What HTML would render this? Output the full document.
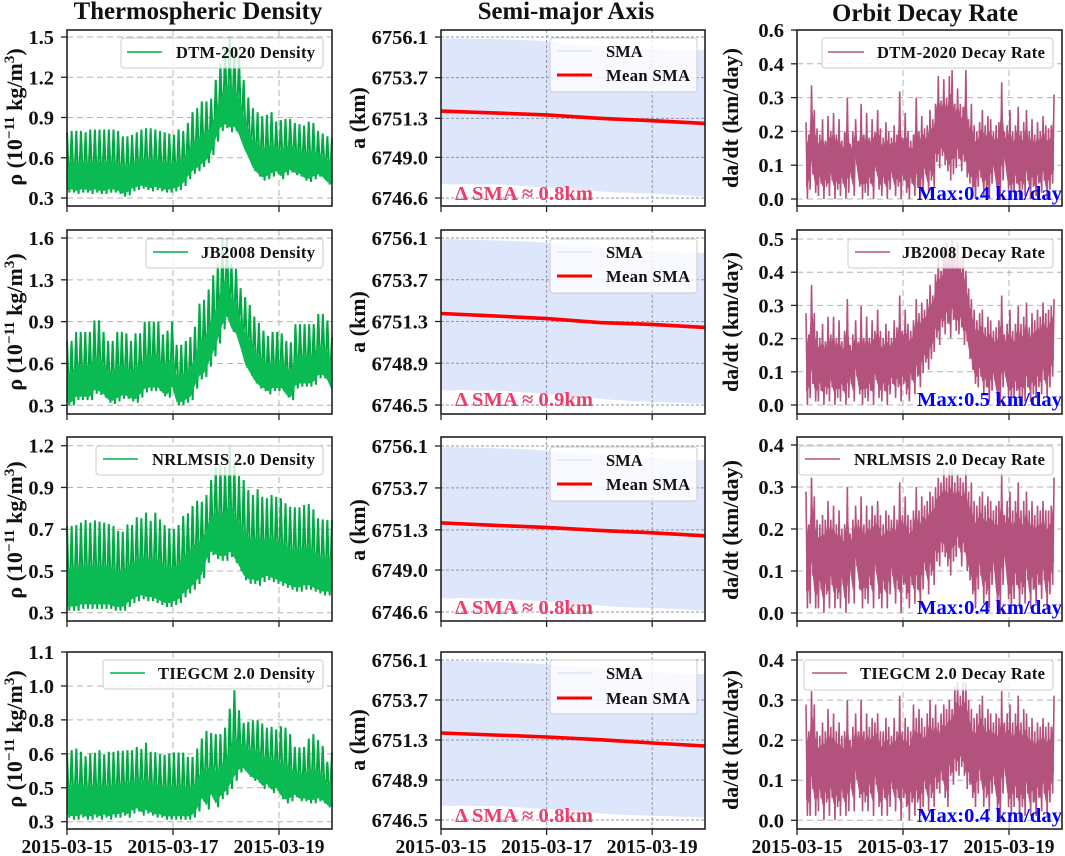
<!DOCTYPE html>
<html>
<head>
<meta charset="utf-8">
<title>Thermospheric density, semi-major axis and orbit decay rate</title>
<style>
html,body{margin:0;padding:0;background:#fff;width:1065px;height:856px;overflow:hidden}
svg{display:block;filter:blur(0.35px)}
text{font-family:"Liberation Serif","DejaVu Serif",serif;font-weight:bold;fill:#111}
.title{font-size:24.8px}
.yl{font-size:22px;text-anchor:middle}
.sup{font-size:15px}
.leg{font-size:16.5px}
.box{fill:#fff;fill-opacity:.8;stroke:#ccc;stroke-width:1}
.delta{font-size:20.5px;fill:#f03a68}
.max{font-size:20.5px;fill:#0000ff}
</style>
</head>
<body>
<svg id="chart" width="1065" height="856" viewBox="0 0 1065 856" xmlns="http://www.w3.org/2000/svg">
<rect width="1065" height="856" fill="#fff"/>
<text class="title" x="198" y="19" text-anchor="middle">Thermospheric Density</text>
<text class="title" x="566" y="19" text-anchor="middle">Semi-major Axis</text>
<text class="title" x="925" y="21" text-anchor="middle">Orbit Decay Rate</text>

<!-- Row 1 -->
<g id="plot-0-0"></g>
<g><rect class="box" x="121" y="38" width="202" height="30" rx="3"/><line x1="127" x2="162" y1="52" y2="52" stroke="#00b04a" stroke-width="1.5"/><text class="leg" x="176" y="58" textLength="139">DTM-2020 Density</text></g>
<text class="yl" transform="translate(22 117) rotate(-90)">ρ (10<tspan class="sup" dy="-8">−11</tspan><tspan dy="8"> kg/m</tspan><tspan class="sup" dy="-8">3</tspan><tspan dy="8">)</tspan></text>
<g id="plot-0-1"></g>
<g><rect class="box" x="550" y="38" width="147" height="54" rx="3"/><line x1="557" x2="592" y1="51" y2="51" stroke="#dbe4fb" stroke-width="1.5"/><text class="leg" x="606" y="57">SMA</text><line x1="557" x2="592" y1="75" y2="75" stroke="#ff0000" stroke-width="3"/><text class="leg" x="606" y="81" textLength="84">Mean SMA</text></g>
<text class="delta" x="455" y="200" textLength="138">Δ SMA ≈ 0.8km</text>
<text class="yl" transform="translate(365 118) rotate(-90)">a (km)</text>
<g id="plot-0-2"></g>
<g><rect class="box" x="822" y="38" width="231" height="30" rx="3"/><line x1="828" x2="864" y1="52" y2="52" stroke="#b9557f" stroke-width="1.5"/><text class="leg" x="877" y="58" textLength="168">DTM-2020 Decay Rate</text></g>
<text class="max" x="917" y="200" textLength="145">Max:0.4 km/day</text>
<text class="yl" transform="translate(738 118) rotate(-90)">da/dt (km/day)</text>

<!-- Row 2 -->
<g id="plot-1-0"></g>
<g><rect class="box" x="146" y="239" width="177" height="29" rx="3"/><line x1="153" x2="188" y1="252" y2="252" stroke="#00b04a" stroke-width="1.5"/><text class="leg" x="201" y="258" textLength="114">JB2008 Density</text></g>
<text class="yl" transform="translate(22 322) rotate(-90)">ρ (10<tspan class="sup" dy="-8">−11</tspan><tspan dy="8"> kg/m</tspan><tspan class="sup" dy="-8">3</tspan><tspan dy="8">)</tspan></text>
<g id="plot-1-1"></g>
<g><rect class="box" x="550" y="239" width="147" height="54" rx="3"/><line x1="557" x2="592" y1="252" y2="252" stroke="#dbe4fb" stroke-width="1.5"/><text class="leg" x="606" y="258">SMA</text><line x1="557" x2="592" y1="276" y2="276" stroke="#ff0000" stroke-width="3"/><text class="leg" x="606" y="282" textLength="84">Mean SMA</text></g>
<text class="delta" x="455" y="406" textLength="138">Δ SMA ≈ 0.9km</text>
<text class="yl" transform="translate(365 322) rotate(-90)">a (km)</text>
<g id="plot-1-2"></g>
<g><rect class="box" x="848" y="239" width="205" height="29" rx="3"/><line x1="855" x2="890" y1="252" y2="252" stroke="#b9557f" stroke-width="1.5"/><text class="leg" x="902" y="258" textLength="143">JB2008 Decay Rate</text></g>
<text class="max" x="917" y="406" textLength="145">Max:0.5 km/day</text>
<text class="yl" transform="translate(738 322) rotate(-90)">da/dt (km/day)</text>

<!-- Row 3 -->
<g id="plot-2-0"></g>
<g><rect class="box" x="96" y="446" width="227" height="29" rx="3"/><line x1="103" x2="138" y1="459" y2="459" stroke="#00b04a" stroke-width="1.5"/><text class="leg" x="152" y="465" textLength="163">NRLMSIS 2.0 Density</text></g>
<text class="yl" transform="translate(22 530) rotate(-90)">ρ (10<tspan class="sup" dy="-8">−11</tspan><tspan dy="8"> kg/m</tspan><tspan class="sup" dy="-8">3</tspan><tspan dy="8">)</tspan></text>
<g id="plot-2-1"></g>
<g><rect class="box" x="550" y="447" width="147" height="54" rx="3"/><line x1="557" x2="592" y1="460" y2="460" stroke="#dbe4fb" stroke-width="1.5"/><text class="leg" x="606" y="466">SMA</text><line x1="557" x2="592" y1="484" y2="484" stroke="#ff0000" stroke-width="3"/><text class="leg" x="606" y="490" textLength="84">Mean SMA</text></g>
<text class="delta" x="455" y="614" textLength="138">Δ SMA ≈ 0.8km</text>
<text class="yl" transform="translate(365 530) rotate(-90)">a (km)</text>
<g id="plot-2-2"></g>
<g><rect class="box" x="799" y="446" width="254" height="29" rx="3"/><line x1="805" x2="840" y1="459" y2="459" stroke="#b9557f" stroke-width="1.5"/><text class="leg" x="854" y="465" textLength="191">NRLMSIS 2.0 Decay Rate</text></g>
<text class="max" x="917" y="614" textLength="145">Max:0.4 km/day</text>
<text class="yl" transform="translate(738 530) rotate(-90)">da/dt (km/day)</text>

<!-- Row 4 -->
<g id="plot-3-0"></g>
<g><rect class="box" x="103" y="660" width="220" height="29" rx="3"/><line x1="110" x2="145" y1="673" y2="673" stroke="#00b04a" stroke-width="1.5"/><text class="leg" x="158" y="679" textLength="157">TIEGCM 2.0 Density</text></g>
<text class="yl" transform="translate(22 739) rotate(-90)">ρ (10<tspan class="sup" dy="-8">−11</tspan><tspan dy="8"> kg/m</tspan><tspan class="sup" dy="-8">3</tspan><tspan dy="8">)</tspan></text>
<g id="plot-3-1"></g>
<g><rect class="box" x="550" y="660" width="147" height="54" rx="3"/><line x1="557" x2="592" y1="673" y2="673" stroke="#dbe4fb" stroke-width="1.5"/><text class="leg" x="606" y="679">SMA</text><line x1="557" x2="592" y1="698" y2="698" stroke="#ff0000" stroke-width="3"/><text class="leg" x="606" y="704" textLength="84">Mean SMA</text></g>
<text class="delta" x="455" y="822" textLength="138">Δ SMA ≈ 0.8km</text>
<text class="yl" transform="translate(365 740) rotate(-90)">a (km)</text>
<g id="plot-3-2"></g>
<g><rect class="box" x="804" y="660" width="249" height="30" rx="3"/><line x1="812" x2="847" y1="673" y2="673" stroke="#b9557f" stroke-width="1.5"/><text class="leg" x="860" y="679" textLength="185">TIEGCM 2.0 Decay Rate</text></g>
<text class="max" x="917" y="822" textLength="145">Max:0.4 km/day</text>
<text class="yl" transform="translate(738 740) rotate(-90)">da/dt (km/day)</text>
</svg>

<script>
const xTickDays = [0, 2, 4];
const xTickLabels = ['2015-03-15', '2015-03-17', '2015-03-19'];
const spanDays = 5;

/* ---------- density tick values and labels ---------- */
const dtmDensityTicks = [0.3, 0.6, 0.9, 1.2, 1.5];
const dtmDensityTickLabels = ['0.3', '0.6', '0.9', '1.2', '1.5'];
const jbDensityTicks = [0.3, 0.625, 0.95, 1.275, 1.6];
const jbDensityTickLabels = ['0.3', '0.6', '0.9', '1.3', '1.6'];
const nrlDensityTicks = [0.3, 0.5175, 0.735, 0.9525, 1.17];
const nrlDensityTickLabels = ['0.3', '0.5', '0.7', '0.9', '1.2'];
const tieDensityTicks = [0.3, 0.466, 0.632, 0.798, 0.964, 1.13];
const tieDensityTickLabels = ['0.3', '0.5', '0.6', '0.8', '1.0', '1.1'];

/* ---------- density orbit maxima and minima ---------- */
const dtmDensityHigh = [.79,.80,.80,.80,.79,.81,.81,.81,.81,.81,.81,.80,.76,.76,.77,.79,.81,.82,.82,.81,.80,.79,.78,.77,.81,.80,.86,.94,.97,1.02,1.02,1.04,1.18,1.30,1.42,1.50,1.42,1.36,1.18,1.05,.97,.94,.91,.92,.94,.87,.88,.89,.89,.86,.85,.84,.87,.86,.80,.78,.76,.75];
const dtmDensityLow = [.34,.34,.33,.34,.34,.33,.34,.33,.33,.34,.34,.33,.31,.32,.35,.36,.37,.36,.35,.36,.35,.34,.34,.35,.36,.39,.44,.48,.50,.53,.56,.62,.72,.80,.82,.79,.80,.74,.65,.58,.50,.46,.43,.44,.46,.48,.44,.47,.49,.47,.46,.43,.42,.44,.46,.44,.40,.39];
const jbDensityHigh = [.80,.80,.87,.87,.87,.87,.96,.96,.87,.80,.80,.87,.87,.86,.80,.86,.86,.95,.95,.95,.95,.85,.88,.95,.77,.77,.80,.83,.91,1.09,1.12,1.20,1.31,1.40,1.60,1.60,1.40,1.36,1.21,1.14,1.08,.99,.94,.88,.84,.87,.87,.86,.80,.79,.93,.93,.93,.93,.93,1.01,1.01,.96,.83];
const jbDensityLow = [.30,.30,.34,.34,.34,.34,.39,.38,.36,.32,.31,.33,.35,.35,.33,.32,.36,.40,.41,.41,.41,.37,.36,.42,.30,.30,.32,.34,.43,.50,.52,.60,.68,.78,.89,.96,.87,.83,.72,.59,.53,.47,.43,.41,.385,.41,.41,.41,.36,.34,.43,.445,.445,.445,.46,.51,.51,.47,.39];
const nrlDensityHigh = [.752,.752,.757,.769,.783,.769,.781,.774,.769,.762,.752,.726,.722,.76,.757,.797,.792,.821,.779,.821,.786,.757,.739,.736,.757,.804,.818,.856,.884,.878,.913,.991,1.061,1.07,1.061,1.165,1.07,1.012,.991,.939,.913,.943,.904,.896,.913,.904,.896,.87,.852,.849,.849,.861,.866,.838,.792,.786,.783,.783];
const nrlDensityLow = [.31,.31,.31,.32,.32,.32,.32,.32,.32,.32,.31,.31,.31,.33,.35,.36,.37,.36,.36,.35,.34,.33,.33,.34,.35,.38,.40,.42,.45,.48,.56,.60,.58,.57,.57,.59,.56,.52,.47,.45,.45,.44,.46,.47,.46,.45,.44,.43,.42,.41,.41,.42,.42,.41,.40,.39,.39,.39];
const tieDensityHigh = [.634,.65,.658,.642,.62,.634,.637,.65,.63,.642,.642,.647,.647,.65,.65,.666,.656,.686,.642,.64,.63,.627,.634,.638,.638,.638,.617,.617,.658,.707,.744,.734,.728,.728,.76,.853,.943,.845,.783,.788,.796,.796,.78,.76,.764,.751,.767,.76,.728,.666,.663,.666,.707,.728,.699,.67,.593,.642];
const tieDensityLow = [.32,.31,.31,.32,.31,.31,.32,.31,.32,.31,.32,.32,.33,.32,.34,.35,.33,.34,.33,.32,.32,.31,.31,.31,.31,.31,.31,.32,.35,.40,.36,.42,.37,.41,.43,.46,.50,.54,.55,.52,.50,.49,.46,.47,.44,.45,.41,.39,.40,.42,.40,.40,.39,.39,.40,.39,.37,.36];

/* ---------- semi-major axis tick values and labels ---------- */
const smaTicksA = [6746.6, 6749.0, 6751.3, 6753.7, 6756.1];
const smaTickLabelsA = ['6746.6', '6749.0', '6751.3', '6753.7', '6756.1'];
const smaTicksB = [6746.5, 6748.9, 6751.3, 6753.7, 6756.1];
const smaTickLabelsB = ['6746.5', '6748.9', '6751.3', '6753.7', '6756.1'];

/* ---------- semi-major axis envelopes and mean ---------- */
const dtmSmaTop = [6756.00,6756.02,6756.02,6756.00,6756.00,6755.98,6755.96,6755.94,6755.92,6755.90,6755.86,6755.77,6755.73,6755.69,6755.65,6755.61,6755.57,6755.53,6755.49,6755.45,6755.41,6755.39,6755.37,6755.35,6755.33,6755.31,6755.31];
const dtmSmaBottom = [6747.43,6747.39,6747.43,6747.41,6747.39,6747.41,6747.39,6747.35,6747.31,6747.27,6747.23,6747.19,6747.15,6747.11,6747.07,6747.03,6746.97,6746.93,6746.91,6746.89,6746.87,6746.85,6746.83,6746.80,6746.76,6746.72,6746.68];
const dtmSmaMean = [6751.73,6751.62,6751.50,6751.30,6751.16,6751.00];
const jbSmaTop = [6756.02,6756.04,6756.02,6756.00,6755.98,6755.97,6755.95,6755.93,6755.91,6755.88,6755.84,6755.76,6755.72,6755.68,6755.63,6755.58,6755.54,6755.50,6755.46,6755.41,6755.37,6755.34,6755.31,6755.29,6755.27,6755.25,6755.24];
const jbSmaBottom = [6747.36,6747.33,6747.36,6747.34,6747.32,6747.34,6747.31,6747.27,6747.23,6747.19,6747.15,6747.10,6747.06,6747.01,6746.96,6746.90,6746.84,6746.79,6746.75,6746.72,6746.70,6746.68,6746.66,6746.64,6746.62,6746.60,6746.58];
const jbSmaMean = [6751.76,6751.62,6751.47,6751.24,6751.13,6750.96];
const nrlSmaTop = [6756.02,6756.04,6756.03,6756.01,6756.00,6755.98,6755.96,6755.94,6755.92,6755.89,6755.86,6755.78,6755.74,6755.70,6755.66,6755.62,6755.58,6755.54,6755.50,6755.46,6755.42,6755.39,6755.36,6755.34,6755.32,6755.30,6755.29];
const nrlSmaBottom = [6747.40,6747.37,6747.40,6747.38,6747.37,6747.38,6747.36,6747.33,6747.29,6747.25,6747.21,6747.17,6747.13,6747.09,6747.05,6747.00,6746.95,6746.91,6746.88,6746.86,6746.84,6746.82,6746.80,6746.77,6746.74,6746.71,6746.68];
const nrlSmaMean = [6751.70,6751.56,6751.44,6751.27,6751.13,6750.96];
const tieSmaTop = [6756.04,6756.05,6756.04,6756.02,6756.00,6755.99,6755.97,6755.95,6755.93,6755.90,6755.86,6755.79,6755.74,6755.70,6755.66,6755.62,6755.57,6755.53,6755.49,6755.45,6755.40,6755.37,6755.34,6755.31,6755.28,6755.26,6755.24];
const tieSmaBottom = [6747.36,6747.33,6747.37,6747.35,6747.33,6747.34,6747.32,6747.28,6747.24,6747.20,6747.16,6747.12,6747.08,6747.03,6746.98,6746.93,6746.88,6746.84,6746.81,6746.79,6746.77,6746.75,6746.73,6746.71,6746.69,6746.67,6746.66];
const tieSmaMean = [6751.72,6751.60,6751.48,6751.32,6751.12,6750.94];

/* ---------- decay rate tick values and labels ---------- */
const dtmDecayTicks = [0, 0.11, 0.22, 0.33, 0.44, 0.55];
const dtmDecayTickLabels = ['0.0', '0.1', '0.2', '0.3', '0.4', '0.6'];
const jbDecayTicks = [0, 0.094, 0.188, 0.282, 0.376, 0.47];
const jbDecayTickLabels = ['0.0', '0.1', '0.2', '0.3', '0.4', '0.5'];
const lowDecayTicks = [0, 0.09, 0.18, 0.27, 0.36];
const lowDecayTickLabels = ['0.0', '0.1', '0.2', '0.3', '0.4'];

/* ---------- decay rate spike tops and minima ---------- */
const decayFirstDay = 0.17;
const decayLastDay = 4.85;
const dtmDecayHigh = [.25,.21,.37,.29,.23,.21,.26,.19,.27,.22,.28,.21,.26,.19,.22,.33,.18,.22,.26,.19,.31,.21,.28,.20,.26,.22,.29,.23,.20,.25,.22,.20,.24,.21,.35,.20,.28,.22,.19,.21,.33,.22,.27,.23,.24,.29,.26,.31,.40,.32,.39,.33,.40,.42,.31,.36,.31,.30,.42,.26,.31,.24,.22,.25,.29,.24,.27,.26,.22,.24,.25,.38,.22,.24,.29,.22,.24,.30,.22,.25,.29,.22,.26,.21,.25,.22,.27,.24,.23,.24,.34];
const dtmDecayLow = [.00,.03,.08,.02,.01,.05,.00,.04,.01,.06,.00,.03,.01,.05,.00,.02,.07,.01,.11,.04,.00,.02,.01,.05,.00,.09,.03,.01,.05,.00,.03,.07,.01,.04,.00,.06,.02,.00,.05,.01,.04,.00,.03,.08,.02,.06,.04,.12,.10,.14,.11,.09,.06,.08,.10,.13,.09,.12,.07,.05,.03,.00,.04,.07,.01,.03,.00,.05,.09,.01,.00,.06,.12,.03,.00,.02,.05,.00,.03,.01,.06,.00,.04,.01,.05,.02,.06,.00,.03,.05,.05];
const jbDecayHigh = [.26,.20,.34,.26,.21,.19,.23,.18,.25,.20,.25,.19,.24,.18,.21,.30,.17,.20,.24,.18,.28,.19,.25,.19,.24,.21,.27,.21,.19,.23,.21,.19,.24,.22,.31,.21,.27,.23,.21,.24,.30,.26,.29,.27,.30,.34,.31,.37,.42,.38,.44,.46,.43,.47,.42,.46,.41,.43,.38,.33,.30,.27,.24,.26,.27,.22,.25,.24,.21,.22,.24,.31,.20,.23,.27,.21,.23,.28,.23,.25,.29,.22,.26,.24,.27,.25,.29,.26,.27,.28,.30];
const jbDecayLow = [.00,.02,.06,.01,.01,.04,.00,.03,.01,.05,.00,.02,.01,.04,.00,.02,.06,.01,.08,.03,.00,.02,.01,.04,.00,.07,.02,.01,.04,.00,.03,.06,.02,.05,.01,.06,.03,.01,.07,.03,.08,.05,.09,.12,.10,.13,.15,.19,.17,.22,.20,.23,.19,.24,.21,.20,.22,.17,.18,.13,.10,.06,.05,.08,.03,.05,.01,.04,.07,.01,.00,.05,.08,.02,.00,.02,.04,.00,.02,.01,.05,.01,.03,.02,.05,.03,.07,.02,.05,.08,.10];
const nrlDecayHigh = [.26,.19,.29,.25,.20,.19,.21,.20,.24,.20,.23,.19,.22,.18,.19,.27,.17,.20,.23,.20,.25,.19,.23,.20,.23,.21,.24,.21,.19,.22,.21,.20,.23,.20,.28,.21,.25,.21,.20,.22,.27,.22,.25,.23,.24,.26,.25,.27,.29,.28,.31,.29,.31,.31,.28,.30,.29,.28,.31,.26,.28,.24,.23,.25,.26,.23,.25,.24,.22,.23,.24,.30,.21,.24,.26,.22,.24,.28,.22,.24,.26,.22,.24,.21,.23,.22,.24,.22,.22,.23,.29];
const nrlDecayLow = [.01,.02,.08,.01,.01,.05,.00,.04,.01,.06,.01,.03,.01,.06,.00,.02,.08,.02,.10,.05,.01,.03,.02,.06,.01,.09,.03,.01,.05,.01,.04,.08,.02,.05,.00,.06,.03,.01,.06,.02,.05,.01,.05,.09,.04,.08,.06,.11,.10,.13,.12,.10,.08,.11,.12,.14,.10,.13,.09,.07,.04,.01,.05,.08,.02,.04,.01,.06,.09,.01,.00,.06,.11,.03,.00,.03,.06,.01,.04,.02,.07,.01,.05,.02,.06,.03,.07,.01,.04,.06,.08];
const tieDecayHigh = [.26,.20,.29,.26,.20,.19,.22,.20,.25,.21,.24,.20,.22,.19,.20,.27,.18,.21,.24,.20,.27,.20,.24,.21,.23,.22,.24,.20,.20,.23,.21,.19,.23,.20,.28,.20,.23,.21,.20,.26,.23,.25,.23,.21,.24,.27,.23,.26,.22,.24,.26,.25,.27,.25,.30,.31,.28,.31,.31,.27,.25,.23,.24,.26,.28,.23,.25,.24,.22,.24,.23,.29,.22,.24,.26,.22,.24,.28,.22,.25,.24,.21,.23,.20,.22,.21,.23,.21,.22,.21,.28];
const tieDecayLow = [.01,.01,.07,.01,.02,.05,.00,.04,.01,.05,.00,.03,.01,.05,.01,.02,.07,.02,.09,.05,.02,.04,.02,.06,.01,.08,.03,.01,.05,.01,.03,.07,.02,.05,.00,.05,.03,.00,.04,.01,.04,.01,.03,.07,.02,.05,.03,.07,.06,.09,.05,.03,.10,.08,.11,.10,.12,.10,.07,.08,.05,.03,.06,.09,.03,.05,.02,.06,.08,.02,.00,.06,.10,.03,.01,.03,.05,.00,.03,.01,.06,.01,.04,.01,.05,.02,.06,.01,.04,.06,.08];

/* ---------- layout (pixels) ---------- */
const colLeft = [67, 441, 797];
const colRight = [332, 705, 1062];
const rowTop = [30, 230, 437, 652];
const rowBottom = [206, 414, 621, 829];

const panels = [
  {r:0,c:0,kind:'density',high:dtmDensityHigh,low:dtmDensityLow,ticks:dtmDensityTicks,labels:dtmDensityTickLabels,pxLow:198,pxHigh:37},
  {r:1,c:0,kind:'density',high:jbDensityHigh,low:jbDensityLow,ticks:jbDensityTicks,labels:jbDensityTickLabels,pxLow:405.3,pxHigh:238},
  {r:2,c:0,kind:'density',high:nrlDensityHigh,low:nrlDensityLow,ticks:nrlDensityTicks,labels:nrlDensityTickLabels,pxLow:612.7,pxHigh:445.7},
  {r:3,c:0,kind:'density',high:tieDensityHigh,low:tieDensityLow,ticks:tieDensityTicks,labels:tieDensityTickLabels,pxLow:821.7,pxHigh:652},
  {r:0,c:1,kind:'sma',top:dtmSmaTop,bottom:dtmSmaBottom,mean:dtmSmaMean,ticks:smaTicksA,labels:smaTickLabelsA,pxLow:198,pxHigh:37},
  {r:1,c:1,kind:'sma',top:jbSmaTop,bottom:jbSmaBottom,mean:jbSmaMean,ticks:smaTicksB,labels:smaTickLabelsB,pxLow:405,pxHigh:238},
  {r:2,c:1,kind:'sma',top:nrlSmaTop,bottom:nrlSmaBottom,mean:nrlSmaMean,ticks:smaTicksA,labels:smaTickLabelsA,pxLow:612,pxHigh:446},
  {r:3,c:1,kind:'sma',top:tieSmaTop,bottom:tieSmaBottom,mean:tieSmaMean,ticks:smaTicksB,labels:smaTickLabelsB,pxLow:820,pxHigh:660},
  {r:0,c:2,kind:'decay',high:dtmDecayHigh,low:dtmDecayLow,ticks:dtmDecayTicks,labels:dtmDecayTickLabels,pxLow:199,pxHigh:30},
  {r:1,c:2,kind:'decay',high:jbDecayHigh,low:jbDecayLow,ticks:jbDecayTicks,labels:jbDecayTickLabels,pxLow:405,pxHigh:239},
  {r:2,c:2,kind:'decay',high:nrlDecayHigh,low:nrlDecayLow,ticks:lowDecayTicks,labels:lowDecayTickLabels,pxLow:613,pxHigh:445},
  {r:3,c:2,kind:'decay',high:tieDecayHigh,low:tieDecayLow,ticks:lowDecayTicks,labels:lowDecayTickLabels,pxLow:820.3,pxHigh:660}
];

const SVG_NS = 'http://www.w3.org/2000/svg';
function svgEl(tag, attrs) {
  const el = document.createElementNS(SVG_NS, tag);
  for (const k in attrs) el.setAttribute(k, attrs[k]);
  return el;
}
function xScale(p, day) {
  return colLeft[p.c] + (colRight[p.c] - colLeft[p.c]) * day / spanDays;
}
function yScale(p, v) {
  const lo = p.ticks[0], hi = p.ticks[p.ticks.length - 1];
  return p.pxLow + (v - lo) / (hi - lo) * (p.pxHigh - p.pxLow);
}
function fmt(n) { return n.toFixed(2); }

function drawGrid(p, g) {
  const color = p.kind === 'sma' ? '#8f97ad' : '#b4b4b4';
  const dash = p.kind === 'sma' ? '3 2' : '6 4';
  xTickDays.forEach(function (d) {
    const x = xScale(p, d);
    if (d === 0) return;
    const line = svgEl('line', {x1:x, x2:x, y1:rowTop[p.r], y2:rowBottom[p.r], stroke:color, 'stroke-width':1, 'stroke-dasharray':dash});
    
    
    g.appendChild(line);
  });
  p.ticks.forEach(function (t) {
    const y = yScale(p, t);
    const line = svgEl('line', {x1:colLeft[p.c], x2:colRight[p.c], y1:y, y2:y, stroke:color, 'stroke-width':1, 'stroke-dasharray':dash});
    
    
    g.appendChild(line);
  });
}

function drawAxes(p, g) {
  const left = colLeft[p.c], right = colRight[p.c], top = rowTop[p.r], bottom = rowBottom[p.r];
  const frame = svgEl('rect', {x:left, y:top, width:right-left, height:bottom-top, fill:'none', stroke:'#222', 'stroke-width':1.6});
  
  
  g.appendChild(frame);
  p.ticks.forEach(function (t, i) {
    const y = yScale(p, t);
    const mark = svgEl('line', {x1:left-6, x2:left, y1:y, y2:y, stroke:'#222', 'stroke-width':1.3});
    
    
    g.appendChild(mark);
    const label = svgEl('text', {x:left-13, y:y+7, 'text-anchor':'end', 'font-size':20.5});
    
    
    label.textContent = p.labels[i];
    g.appendChild(label);
  });
  xTickDays.forEach(function (d, i) {
    const x = xScale(p, d);
    const mark = svgEl('line', {x1:x, x2:x, y1:bottom, y2:bottom+6, stroke:'#222', 'stroke-width':1.3});
    
    
    g.appendChild(mark);
    if (p.r === rowTop.length - 1) {
      const label = svgEl('text', {x:x, y:853, 'text-anchor':'middle', 'font-size':19.5});
      
      
      label.textContent = xTickLabels[i];
      g.appendChild(label);
    }
  });
}

function zigzagPoints(p, high, low, firstDay, lastDay) {
  const pts = [];
  const step = (lastDay - firstDay) / (high.length - 1);
  high.forEach(function (h, i) {
    const d = firstDay + i * step;
    pts.push(fmt(xScale(p, d)) + ',' + fmt(yScale(p, h)));
    if (i < high.length - 1) {
      pts.push(fmt(xScale(p, d + step / 2)) + ',' + fmt(yScale(p, low[i])));
    }
  });
  return pts.join(' ');
}

/* Solid core where the orbit traces overlap, between two fractions of each high-low swing. */
function corePoints(p, high, low, firstDay, lastDay, fracTop, fracBottom) {
  const step = (lastDay - firstDay) / (high.length - 1);
  const pts = [];
  high.forEach(function (h, i) {
    pts.push(fmt(xScale(p, firstDay + i * step)) + ',' + fmt(yScale(p, low[i] + (h - low[i]) * fracTop)));
  });
  for (let i = high.length - 1; i >= 0; i--) {
    pts.push(fmt(xScale(p, firstDay + i * step)) + ',' + fmt(yScale(p, low[i] + (high[i] - low[i]) * fracBottom)));
  }
  return pts.join(' ');
}

function drawDensity(p, g) {
  const line = svgEl('polyline', {points:zigzagPoints(p, p.high, p.low, 0, spanDays), fill:'none', stroke:'#00a944', 'stroke-width':2, 'stroke-linejoin':'bevel'});
  
  
  g.appendChild(line);
  const core = svgEl('polygon', {points:corePoints(p, p.high, p.low, 0, spanDays, 0.5, 0.05), fill:'#0abb54'});
  
  
  g.appendChild(core);
}

function drawDecay(p, g) {
  const line = svgEl('polyline', {points:zigzagPoints(p, p.high, p.low, decayFirstDay, decayLastDay), fill:'none', stroke:'#b4527e', 'stroke-width':1.6, 'stroke-linejoin':'bevel'});
  
  
  g.appendChild(line);
  const core = svgEl('polygon', {points:corePoints(p, p.high, p.low, decayFirstDay, decayLastDay, 0.8, 0.15), fill:'#b4527e'});
  
  
  g.appendChild(core);
}

function drawSmaBand(p, g) {
  const step = spanDays / (p.top.length - 1);
  const pts = [];
  p.top.forEach(function (v, i) { pts.push(fmt(xScale(p, i * step)) + ',' + fmt(yScale(p, v))); });
  for (let i = p.bottom.length - 1; i >= 0; i--) {
    pts.push(fmt(xScale(p, i * step)) + ',' + fmt(yScale(p, p.bottom[i])));
  }
  const band = svgEl('polygon', {points:pts.join(' '), fill:'#dee6fc'});
  
  
  g.appendChild(band);
}

function drawSmaMean(p, g) {
  const step = spanDays / (p.mean.length - 1);
  const pts = p.mean.map(function (v, i) { return fmt(xScale(p, i * step)) + ',' + fmt(yScale(p, v)); });
  const line = svgEl('polyline', {points:pts.join(' '), fill:'none', stroke:'#ff0000', 'stroke-width':3.6});
  
  
  g.appendChild(line);
}

panels.forEach(function (p) {
  const g = document.getElementById('plot-' + p.r + '-' + p.c);
  if (p.kind === 'sma') {
    drawSmaBand(p, g);
    drawGrid(p, g);
    drawSmaMean(p, g);
  } else {
    drawGrid(p, g);
    if (p.kind === 'density') drawDensity(p, g);
    else drawDecay(p, g);
  }
  drawAxes(p, g);
});
</script>
</body>
</html>
